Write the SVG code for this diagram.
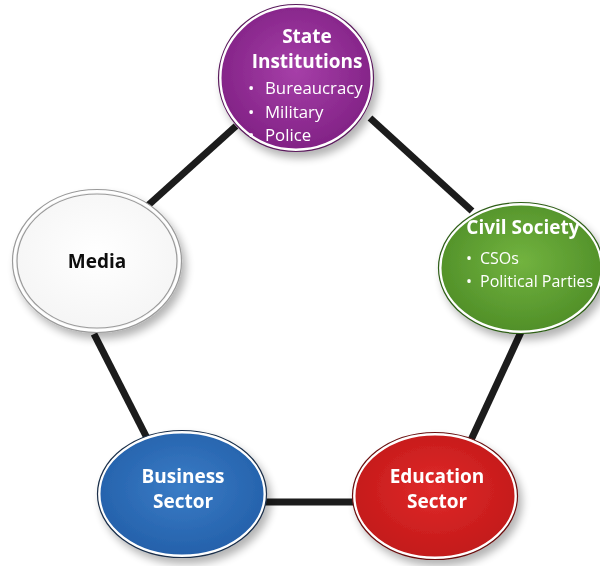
<svg xmlns="http://www.w3.org/2000/svg" width="600" height="566" viewBox="0 0 600 566">
  <style>
    .link { stroke: #1c1c1c; stroke-width: 7; stroke-linecap: butt; fill: none; }
    .ring { stroke: #ffffff; stroke-width: 3; }
    .edge { fill: none; stroke-width: 1.2; }
    .title { font-family: "Open Sans", "Noto Sans", "DejaVu Sans", sans-serif; font-weight: 700; font-size: 19px; fill: #ffffff; text-anchor: middle; }
    .item { font-family: "Open Sans", "Noto Sans", "DejaVu Sans", sans-serif; font-size: 16.8px; fill: #ffffff; }
    .small { font-size: 16px; }
    .dark { fill: #111111; }
  </style>
  <defs>
    <filter id="shadow" x="-20%" y="-20%" width="145%" height="150%">
      <feGaussianBlur in="SourceAlpha" stdDeviation="4"/>
      <feOffset dx="4" dy="6" result="b"/>
      <feComponentTransfer><feFuncA type="linear" slope="0.3"/></feComponentTransfer>
      <feMerge><feMergeNode/><feMergeNode in="SourceGraphic"/></feMerge>
    </filter>
    <radialGradient id="gPurple" cx="50%" cy="45%" r="60%">
      <stop offset="0" stop-color="#a63fa8"/>
      <stop offset="1" stop-color="#7e1f82"/>
    </radialGradient>
    <radialGradient id="gGreen" cx="50%" cy="45%" r="60%">
      <stop offset="0" stop-color="#72b33f"/>
      <stop offset="1" stop-color="#4d8c26"/>
    </radialGradient>
    <radialGradient id="gBlue" cx="50%" cy="45%" r="60%">
      <stop offset="0" stop-color="#3a7cc6"/>
      <stop offset="1" stop-color="#225ea8"/>
    </radialGradient>
    <radialGradient id="gRed" cx="50%" cy="45%" r="60%">
      <stop offset="0" stop-color="#e02a2a"/>
      <stop offset="1" stop-color="#c01818"/>
    </radialGradient>
    <radialGradient id="gWhite" cx="50%" cy="45%" r="60%">
      <stop offset="0" stop-color="#ffffff"/>
      <stop offset="1" stop-color="#f4f4f4"/>
    </radialGradient>
  </defs>

  <!-- connectors -->
  <g id="connectors">
    <line class="link" x1="236" y1="126" x2="144" y2="209"/>
    <line class="link" x1="370" y1="118" x2="472" y2="211"/>
    <line class="link" x1="521" y1="332" x2="471" y2="440"/>
    <line class="link" x1="258" y1="502" x2="360" y2="502"/>
    <line class="link" x1="94" y1="334" x2="148" y2="440"/>
  </g>

  <g id="state-institutions" filter="url(#shadow)">
    <ellipse cx="296" cy="78" rx="76" ry="72" fill="url(#gPurple)" class="ring"/>
    <ellipse cx="296" cy="78" rx="77.5" ry="73.5" class="edge" stroke="#5a1a5c"/>
    <text class="title" x="307" y="43">State</text>
    <text class="title" x="307" y="68">Institutions</text>
    <text class="item" x="248" y="94"><tspan>•</tspan><tspan x="265">Bureaucracy</tspan></text>
    <text class="item" x="248" y="117.5"><tspan>•</tspan><tspan x="265">Military</tspan></text>
    <text class="item" x="248" y="141"><tspan>•</tspan><tspan x="265">Police</tspan></text>
  </g>

  <g id="civil-society" filter="url(#shadow)">
    <ellipse cx="521" cy="268" rx="81" ry="64" fill="url(#gGreen)" class="ring"/>
    <ellipse cx="521" cy="268" rx="82.5" ry="65.5" class="edge" stroke="#2f5e18"/>
    <text class="title" x="523" y="234" font-size="18">Civil Society</text>
    <text class="item small" x="466" y="264"><tspan>•</tspan><tspan x="480">CSOs</tspan></text>
    <text class="item small" x="466" y="287"><tspan>•</tspan><tspan x="480">Political Parties</tspan></text>
  </g>

  <g id="media" filter="url(#shadow)">
    <ellipse cx="97" cy="261" rx="83" ry="70" fill="url(#gWhite)" stroke="#ffffff" stroke-width="3"/>
    <ellipse cx="97" cy="261" rx="80" ry="67" class="edge" stroke="#9a9a9a"/>
    <ellipse cx="97" cy="261" rx="84.5" ry="71.5" class="edge" stroke="#9a9a9a"/>
    <text class="title dark" x="97" y="268" font-size="17.5">Media</text>
  </g>

  <g id="business-sector" filter="url(#shadow)">
    <ellipse cx="182" cy="494" rx="83" ry="62" fill="url(#gBlue)" class="ring"/>
    <ellipse cx="182" cy="494" rx="84.5" ry="63.5" class="edge" stroke="#1a2f4a"/>
    <text class="title" x="183" y="483">Business</text>
    <text class="title" x="183" y="508">Sector</text>
  </g>

  <g id="education-sector" filter="url(#shadow)">
    <ellipse cx="435" cy="496" rx="81" ry="62" fill="url(#gRed)" class="ring"/>
    <ellipse cx="435" cy="496" rx="82.5" ry="63.5" class="edge" stroke="#6a1010"/>
    <text class="title" x="437" y="483">Education</text>
    <text class="title" x="437" y="508">Sector</text>
  </g>
</svg>
